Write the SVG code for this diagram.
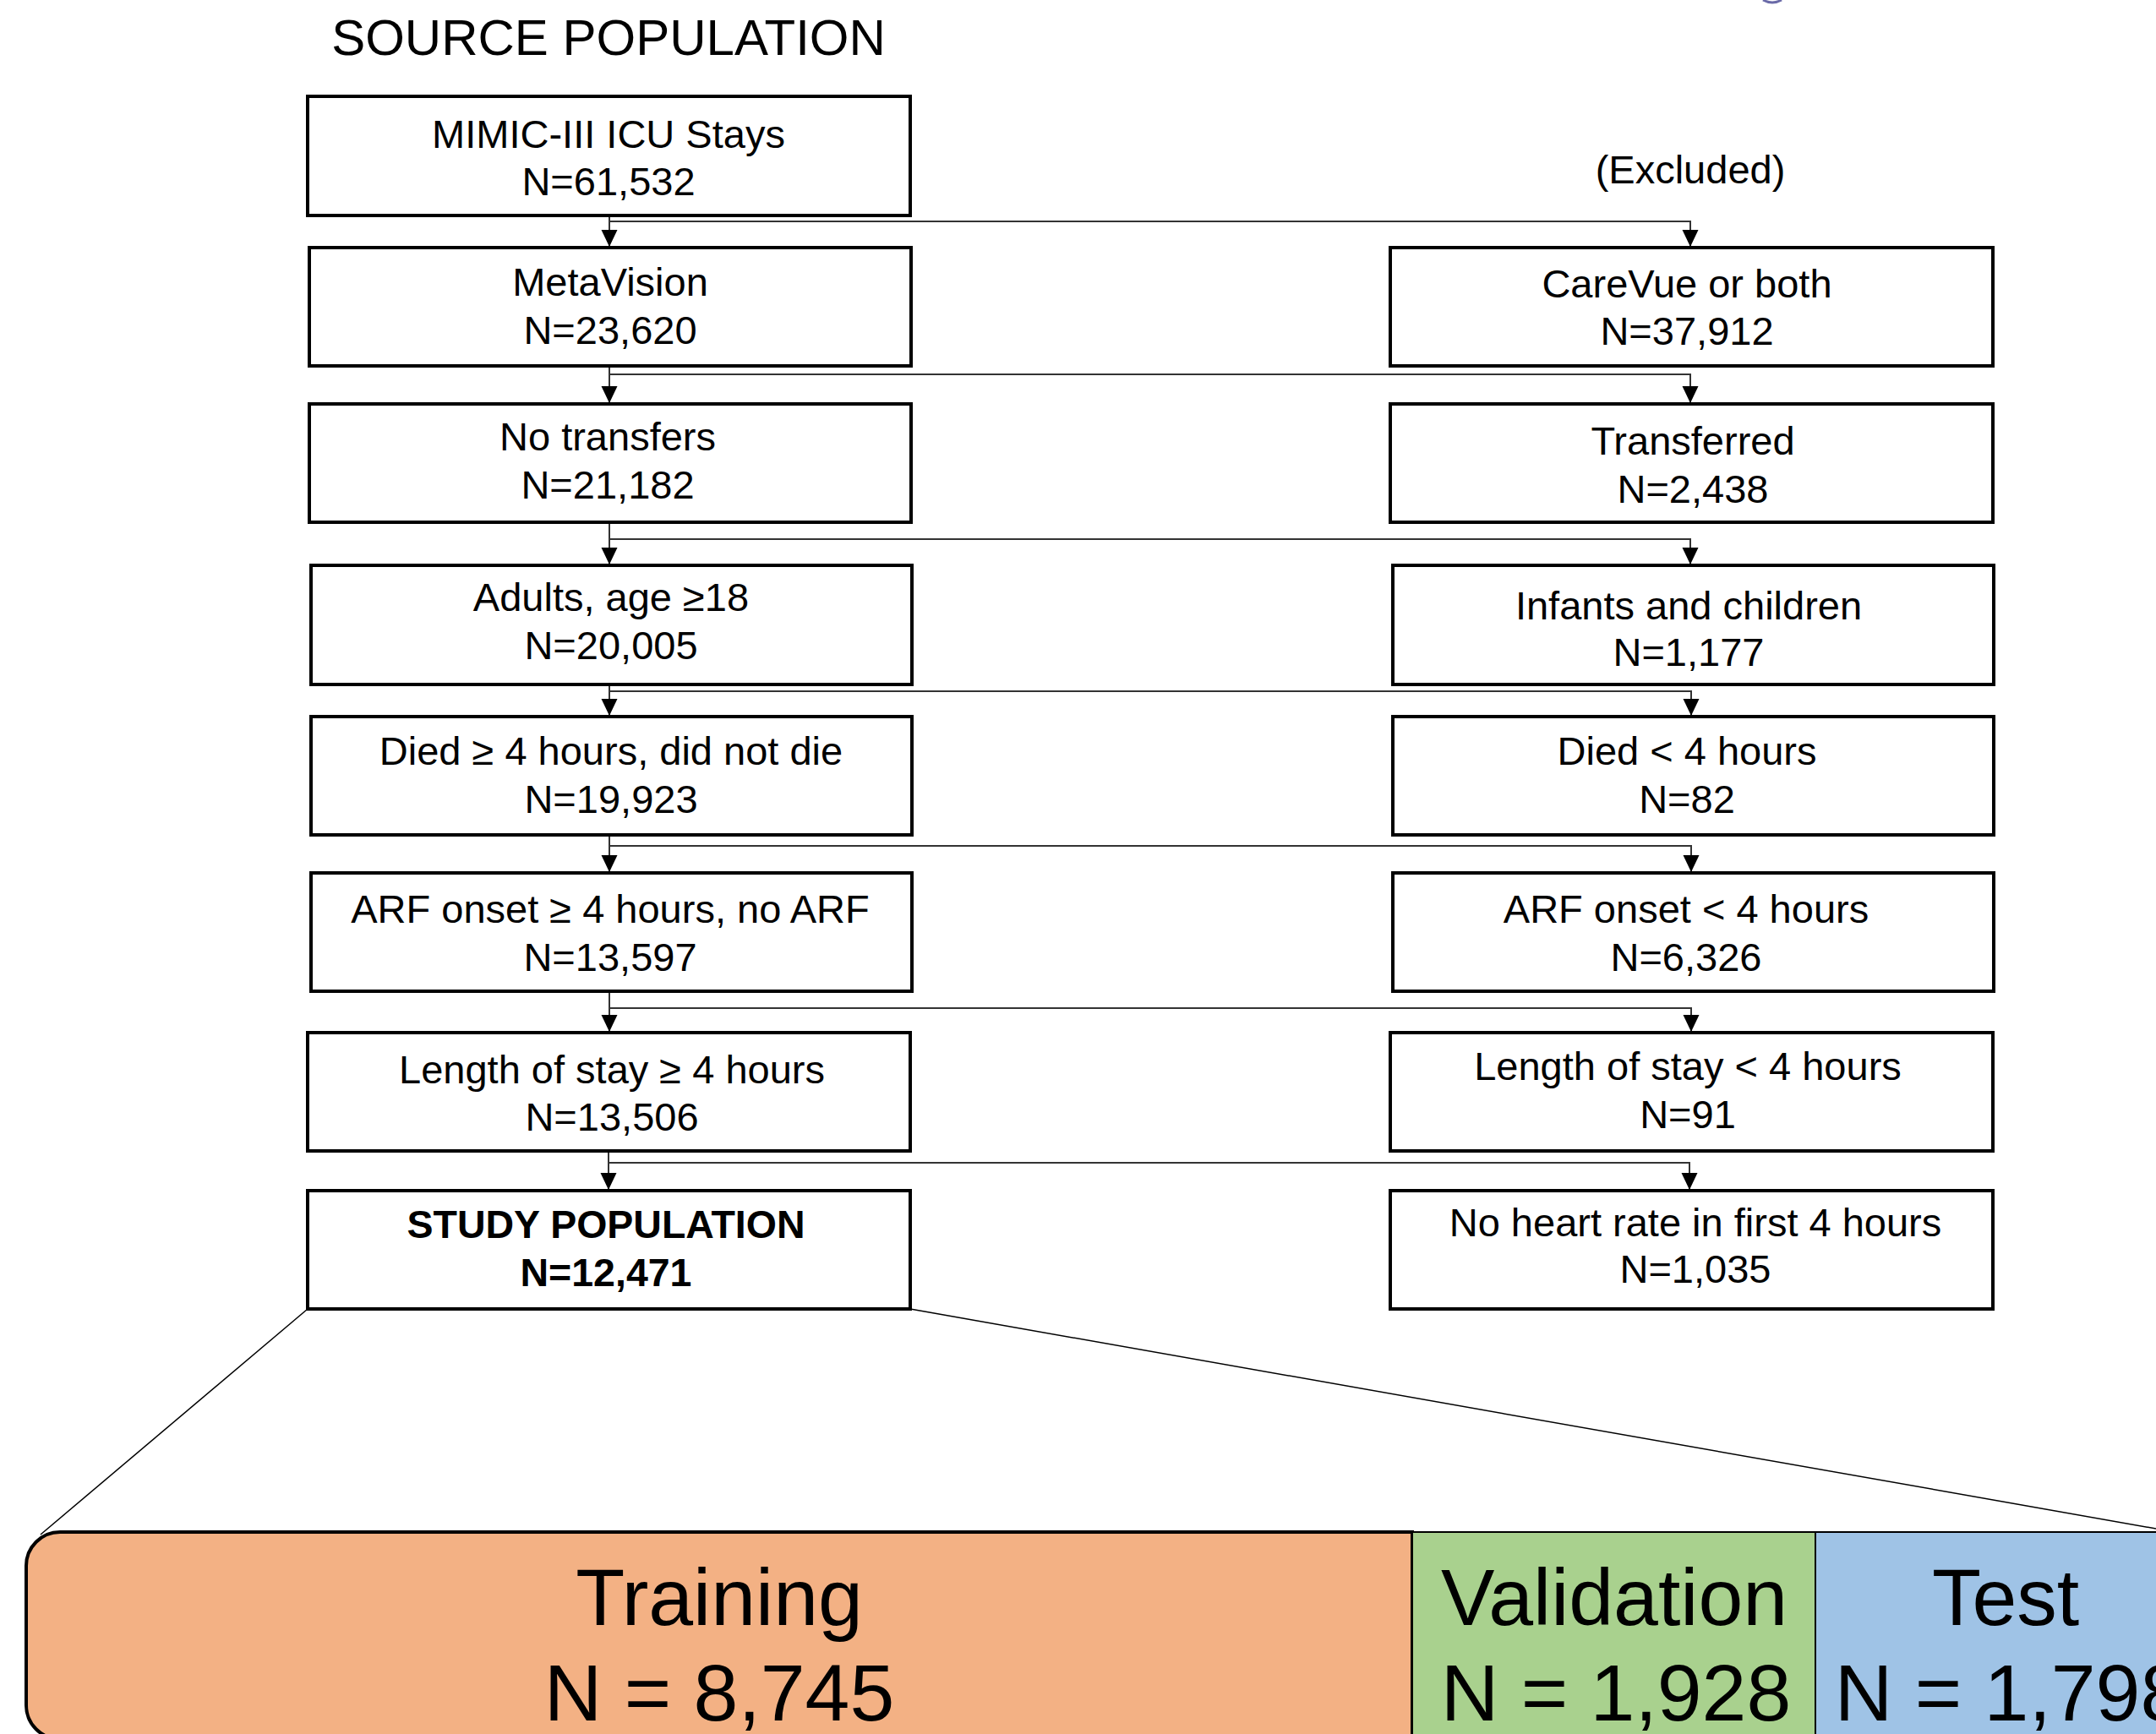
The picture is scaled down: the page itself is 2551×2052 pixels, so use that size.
<svg xmlns="http://www.w3.org/2000/svg" width="2551" height="2052" viewBox="0 0 2551 2052">
<style>
  text { font-family: "Liberation Sans", Arial, sans-serif; fill: #000; text-anchor: middle; }
  .t { font-size: 47px; }
  .b { font-size: 46.5px; font-weight: bold; }
  .title { font-size: 60px; }
  .big { font-size: 95px; }
  .box { fill: #fff; stroke: #000; stroke-width: 4; }
  .conn { fill: none; stroke: #333; stroke-width: 2; }
  .split { stroke: #000; stroke-width: 2; }
  .zoomline { fill: none; stroke: #000; stroke-width: 1.5; }
</style>
<defs>
  <marker id="arr" markerUnits="userSpaceOnUse" markerWidth="20" markerHeight="20" viewBox="0 0 20 20" refX="20" refY="10" orient="auto">
    <path d="M0,0.5 L20,10 L0,19.5 Z" fill="#000"/>
  </marker>
</defs>
<rect x="0" y="0" width="2551" height="2052" fill="#fff"/>
<path d="M2086,0 Q2097,6 2108,0" fill="none" stroke="#6a6aa8" stroke-width="3"/>

<text class="title" x="720" y="65">SOURCE POPULATION</text>
<text class="t" x="2000" y="217">(Excluded)</text>

<g id="connectors">
  <line class="conn" x1="721" y1="255" x2="721" y2="292" marker-end="url(#arr)"/>
  <path class="conn" d="M721,262 H2000 V292" marker-end="url(#arr)"/>
  <line class="conn" x1="721" y1="433" x2="721" y2="477" marker-end="url(#arr)"/>
  <path class="conn" d="M721,443 H2000 V477" marker-end="url(#arr)"/>
  <line class="conn" x1="721" y1="618" x2="721" y2="668" marker-end="url(#arr)"/>
  <path class="conn" d="M721,638 H2000 V668" marker-end="url(#arr)"/>
  <line class="conn" x1="721" y1="810" x2="721" y2="847" marker-end="url(#arr)"/>
  <path class="conn" d="M721,818 H2001 V847" marker-end="url(#arr)"/>
  <line class="conn" x1="721" y1="988" x2="721" y2="1032" marker-end="url(#arr)"/>
  <path class="conn" d="M721,1001 H2001 V1032" marker-end="url(#arr)"/>
  <line class="conn" x1="721" y1="1173" x2="721" y2="1221" marker-end="url(#arr)"/>
  <path class="conn" d="M721,1193 H2001 V1221" marker-end="url(#arr)"/>
  <line class="conn" x1="720" y1="1362" x2="720" y2="1408" marker-end="url(#arr)"/>
  <path class="conn" d="M720,1376 H1999 V1408" marker-end="url(#arr)"/>
  <line class="zoomline" x1="364" y1="1549" x2="48" y2="1816"/>
  <line class="zoomline" x1="1077" y1="1549" x2="2551" y2="1809"/>
</g>

<g id="n-mimic">
  <rect class="box" x="364" y="114" width="713" height="141"/>
  <text class="t" x="720" y="175">MIMIC-III ICU Stays</text>
  <text class="t" x="720" y="231">N=61,532</text>
</g>
<g id="n-metavision">
  <rect class="box" x="366" y="293" width="712" height="140"/>
  <text class="t" x="722" y="350">MetaVision</text>
  <text class="t" x="722" y="407">N=23,620</text>
</g>
<g id="n-carevue">
  <rect class="box" x="1645" y="293" width="713" height="140"/>
  <text class="t" x="1996" y="352">CareVue or both</text>
  <text class="t" x="1996" y="408">N=37,912</text>
</g>
<g id="n-notransfers">
  <rect class="box" x="366" y="478" width="712" height="140"/>
  <text class="t" x="719" y="533">No transfers</text>
  <text class="t" x="719" y="590">N=21,182</text>
</g>
<g id="n-transferred">
  <rect class="box" x="1645" y="478" width="713" height="140"/>
  <text class="t" x="2003" y="538">Transferred</text>
  <text class="t" x="2003" y="595">N=2,438</text>
</g>
<g id="n-adults">
  <rect class="box" x="368" y="669" width="711" height="141"/>
  <text class="t" x="723" y="723">Adults, age ≥18</text>
  <text class="t" x="723" y="780">N=20,005</text>
</g>
<g id="n-infants">
  <rect class="box" x="1648" y="669" width="711" height="141"/>
  <text class="t" x="1998" y="733">Infants and children</text>
  <text class="t" x="1998" y="788">N=1,177</text>
</g>
<g id="n-died-ge">
  <rect class="box" x="368" y="848" width="711" height="140"/>
  <text class="t" x="723" y="905">Died ≥ 4 hours, did not die</text>
  <text class="t" x="723" y="962">N=19,923</text>
</g>
<g id="n-died-lt">
  <rect class="box" x="1648" y="848" width="711" height="140"/>
  <text class="t" x="1996" y="905">Died &lt; 4 hours</text>
  <text class="t" x="1996" y="962">N=82</text>
</g>
<g id="n-arf-ge">
  <rect class="box" x="368" y="1033" width="711" height="140"/>
  <text class="t" x="722" y="1092">ARF onset ≥ 4 hours, no ARF</text>
  <text class="t" x="722" y="1149">N=13,597</text>
</g>
<g id="n-arf-lt">
  <rect class="box" x="1648" y="1033" width="711" height="140"/>
  <text class="t" x="1995" y="1092">ARF onset &lt; 4 hours</text>
  <text class="t" x="1995" y="1149">N=6,326</text>
</g>
<g id="n-los-ge">
  <rect class="box" x="364" y="1222" width="713" height="140"/>
  <text class="t" x="724" y="1282">Length of stay ≥ 4 hours</text>
  <text class="t" x="724" y="1338">N=13,506</text>
</g>
<g id="n-los-lt">
  <rect class="box" x="1645" y="1222" width="713" height="140"/>
  <text class="t" x="1997" y="1278">Length of stay &lt; 4 hours</text>
  <text class="t" x="1997" y="1335">N=91</text>
</g>
<g id="n-study">
  <rect class="box" x="364" y="1409" width="713" height="140"/>
  <text class="b" x="717" y="1465">STUDY POPULATION</text>
  <text class="b" x="717" y="1522">N=12,471</text>
</g>
<g id="n-noheart">
  <rect class="box" x="1645" y="1409" width="713" height="140"/>
  <text class="t" x="2006" y="1463">No heart rate in first 4 hours</text>
  <text class="t" x="2006" y="1518">N=1,035</text>
</g>

<g id="n-training">
  <path d="M1671,1813 H71 A40,40 0 0 0 31,1853 V2018 A40,40 0 0 0 71,2058 H1671 Z" fill="#F3B184" stroke="#000" stroke-width="4"/>
  <text class="big" x="851" y="1923">Training</text>
  <text class="big" x="851" y="2036">N = 8,745</text>
</g>
<g id="n-validation">
  <rect x="1671" y="1813" width="477" height="260" fill="#A9D18E" class="split"/>
  <text class="big" x="1910" y="1923">Validation</text>
  <text class="big" x="1912" y="2036">N = 1,928</text>
</g>
<g id="n-test">
  <rect x="2148" y="1813" width="420" height="260" fill="#9FC3E6" class="split"/>
  <text class="big" x="2373" y="1923">Test</text>
  <text class="big" x="2378" y="2036">N = 1,798</text>
</g>
</svg>
